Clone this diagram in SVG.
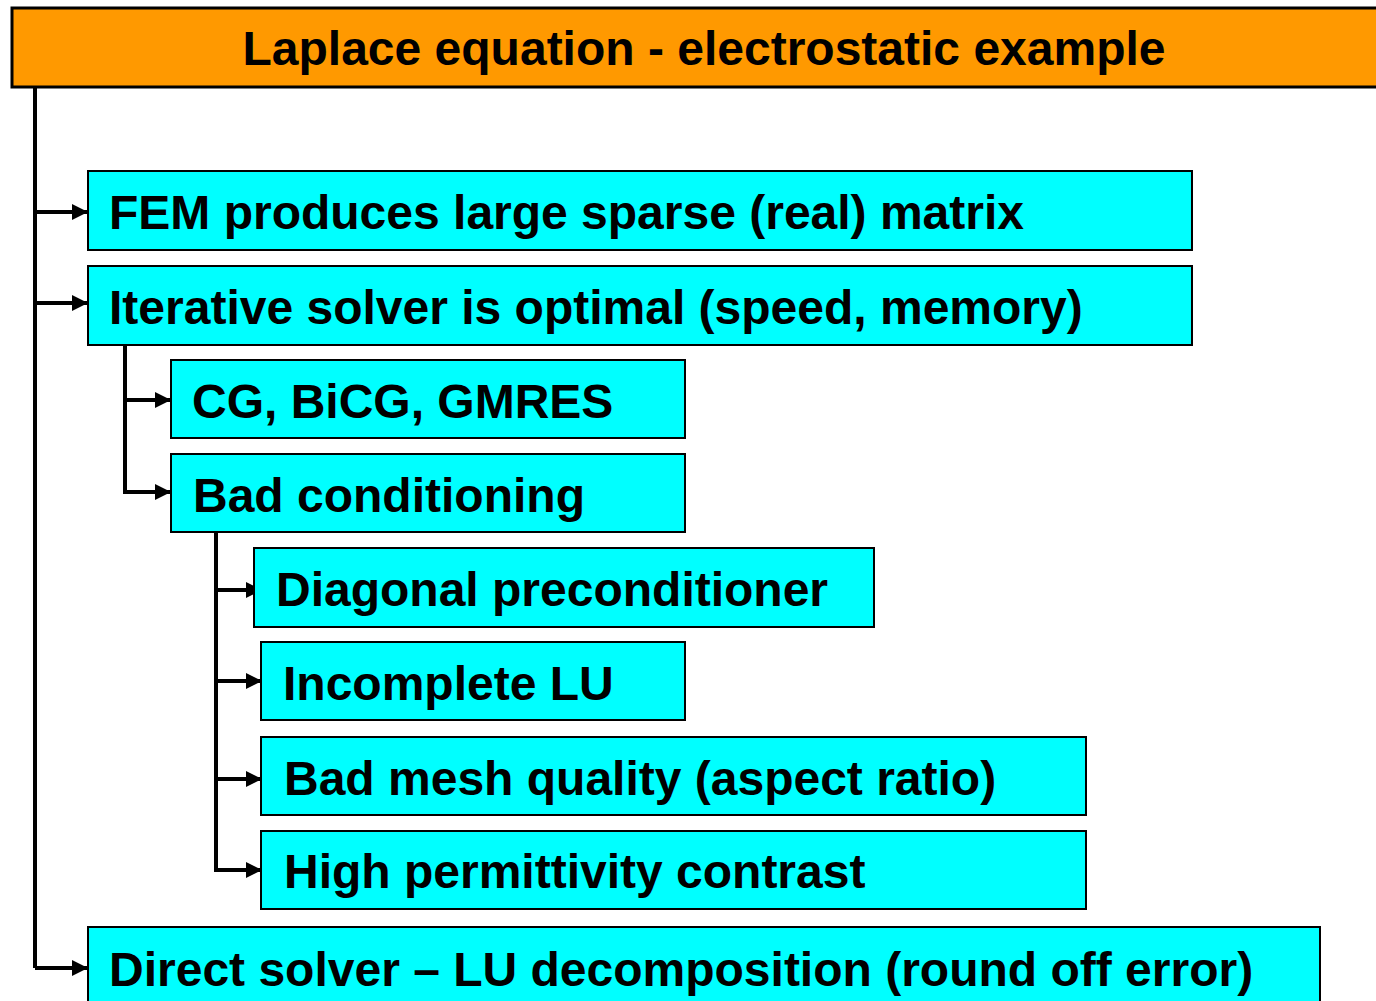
<svg xmlns="http://www.w3.org/2000/svg" width="1376" height="1001" viewBox="0 0 1376 1001">
<style>
.box{fill:#00FFFF;stroke:#000;stroke-width:2}
.hdr{fill:#FF9900;stroke:#000;stroke-width:3}
.t{font-family:"Liberation Sans",Arial,sans-serif;font-weight:bold;font-size:48px;fill:#000}
.c{fill:none;stroke:#000;stroke-width:4}
</style>
<defs>
<marker id="ah" markerWidth="4" markerHeight="4" refX="4" refY="2" orient="auto" markerUnits="strokeWidth">
<path d="M0,0 L4,2 L0,4 Z" fill="#000"/>
</marker>
</defs>
<rect width="1376" height="1001" fill="#fff"/>
<g id="connectors">
<path class="c" d="M35,87 V968" />
<path class="c" d="M35,212 H88" marker-end="url(#ah)"/>
<path class="c" d="M35,303 H88" marker-end="url(#ah)"/>
<path class="c" d="M35,968 H88" marker-end="url(#ah)"/>
<path class="c" d="M125,345 V492 H171" marker-end="url(#ah)"/>
<path class="c" d="M125,400 H171" marker-end="url(#ah)"/>
<path class="c" d="M216,532 V870 H262" marker-end="url(#ah)"/>
<path class="c" d="M216,590 H262" marker-end="url(#ah)"/>
<path class="c" d="M216,681 H262" marker-end="url(#ah)"/>
<path class="c" d="M216,779 H262" marker-end="url(#ah)"/>
</g>
<g id="header"><rect class="hdr" x="12" y="8" width="1380" height="79"/><text class="t" x="704" y="65" text-anchor="middle">Laplace equation - electrostatic example</text></g>
<g id="fem"><rect class="box" x="88" y="171" width="1104" height="79"/><text class="t" x="109" y="229">FEM produces large sparse (real) matrix</text></g>
<g id="iterative"><rect class="box" x="88" y="266" width="1104" height="79"/><text class="t" x="109" y="324">Iterative solver is optimal (speed, memory)</text></g>
<g id="cg"><rect class="box" x="171" y="360" width="514" height="78"/><text class="t" x="192" y="418">CG, BiCG, GMRES</text></g>
<g id="badcond"><rect class="box" x="171" y="454" width="514" height="78"/><text class="t" x="193" y="512">Bad conditioning</text></g>
<g id="diag"><rect class="box" x="254" y="548" width="620" height="79"/><text class="t" x="276" y="606">Diagonal preconditioner</text></g>
<g id="ilu"><rect class="box" x="261" y="642" width="424" height="78"/><text class="t" x="283" y="700">Incomplete LU</text></g>
<g id="mesh"><rect class="box" x="261" y="737" width="825" height="78"/><text class="t" x="284" y="795">Bad mesh quality (aspect ratio)</text></g>
<g id="perm"><rect class="box" x="261" y="831" width="825" height="78"/><text class="t" x="284" y="888">High permittivity contrast</text></g>
<g id="direct"><rect class="box" x="88" y="927" width="1232" height="90"/><text class="t" x="109" y="986">Direct solver – LU decomposition (round off error)</text></g>
</svg>
